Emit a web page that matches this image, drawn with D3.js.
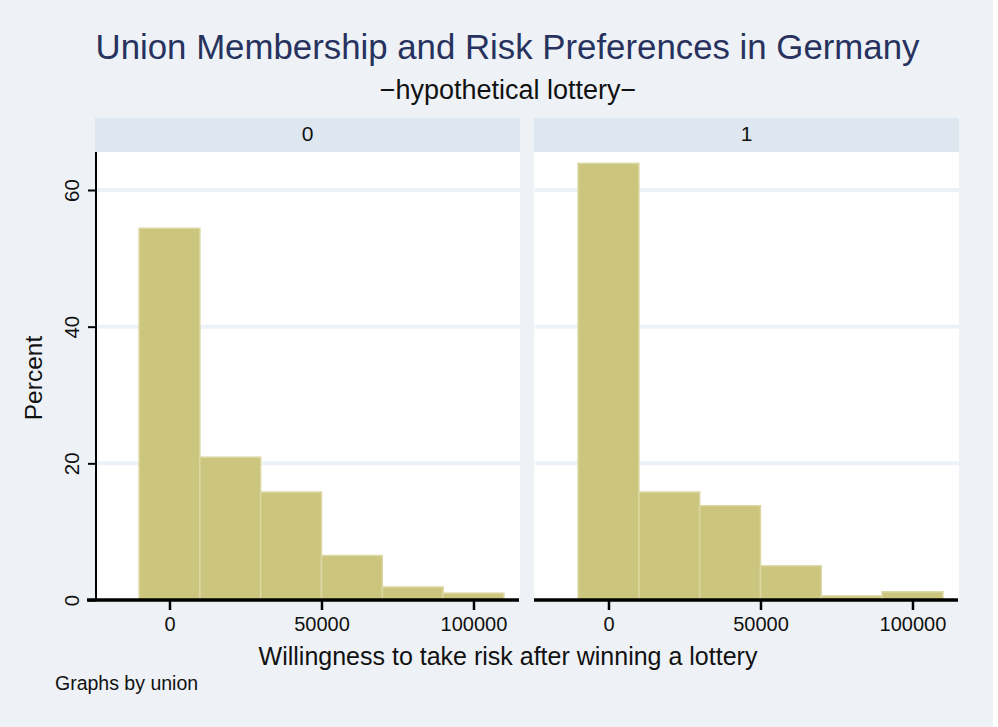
<!DOCTYPE html>
<html lang="en">

<head>
    <meta charset="UTF-8">
    <title>Union Membership and Risk Preferences in Germany</title>
    <style>
        html, body {
            margin: 0;
            padding: 0;
            background: #ffffff;
        }
        svg text {
            font-family: "Liberation Sans", Arial, Helvetica, sans-serif;
        }
    </style>
</head>

<body>
    <div id='chart'></div>

    <script src="https://cdnjs.cloudflare.com/ajax/libs/d3/7.8.5/d3.min.js"></script>

    <script>

        // Histogram data (percent per bin)
        var binEdges = [-10000, 10000, 30000, 50000, 70000, 90000, 110000];
        var panelLabels = ['0', '1'];
        var percentUnion0 = [54.4, 20.9, 15.8, 6.5, 1.9, 1.0];
        var percentUnion1 = [63.9, 15.8, 13.8, 5.0, 0.6, 1.2];
        var yTicks = [0, 20, 40, 60];
        var xTicks = [0, 50000, 100000];

        var width = 998, height = 727;

        var svg = d3.select('#chart').append('svg')
            .attr('width', width)
            .attr('height', height);

        // Figure background (leaves a thin white band on the right like the original)
        svg.append('rect')
            .attr('x', 0).attr('y', 0)
            .attr('width', 993).attr('height', height)
            .attr('fill', '#eef2f7');

        // Titles
        svg.append('text')
            .attr('x', 507.5).attr('y', 59)
            .attr('text-anchor', 'middle')
            .attr('font-size', 34.8)
            .attr('fill', '#27325e')
            .text('Union Membership and Risk Preferences in Germany');

        svg.append('text')
            .attr('x', 508).attr('y', 99)
            .attr('text-anchor', 'middle')
            .attr('font-size', 27)
            .attr('fill', '#111')
            .text('\u2212hypothetical lottery\u2212');

        // Panel geometry
        var panels = [
            { label: panelLabels[0], values: percentUnion0, x0: 95, x1: 520 },
            { label: panelLabels[1], values: percentUnion1, x0: 534, x1: 959 }
        ];
        var stripTop = 118, plotTop = 152, plotBottom = 600;

        var y = d3.scaleLinear().domain([0, 65.56]).range([plotBottom, plotTop]);

        panels.forEach(function (p, i) {
            var x = d3.scaleLinear().domain([-24500, 115300]).range([p.x0, p.x1]);
            var g = svg.append('g');

            // strip header
            g.append('rect')
                .attr('x', p.x0).attr('y', stripTop)
                .attr('width', p.x1 - p.x0).attr('height', plotTop - stripTop)
                .attr('fill', '#dee6ef');
            g.append('text')
                .attr('x', (p.x0 + p.x1) / 2).attr('y', 141)
                .attr('text-anchor', 'middle')
                .attr('font-size', 21)
                .attr('fill', '#111')
                .text(p.label);

            // plot region
            g.append('rect')
                .attr('x', p.x0).attr('y', plotTop)
                .attr('width', p.x1 - p.x0).attr('height', plotBottom - plotTop)
                .attr('fill', '#ffffff');

            // gridlines
            g.selectAll('.grid')
                .data(yTicks.filter(function (d) { return d > 0; }))
                .enter().append('line')
                .attr('x1', p.x0 + 1).attr('x2', p.x1)
                .attr('y1', function (d) { return y(d); })
                .attr('y2', function (d) { return y(d); })
                .attr('stroke', '#edf2f8')
                .attr('stroke-width', 4);

            // bars
            g.selectAll('.bar')
                .data(p.values)
                .enter().append('rect')
                .attr('x', function (d, j) { return x(binEdges[j]); })
                .attr('width', function (d, j) { return x(binEdges[j + 1]) - x(binEdges[j]); })
                .attr('y', function (d) { return y(d); })
                .attr('height', function (d) { return y(0) - y(d); })
                .attr('fill', '#ccc57e')
                .attr('stroke', '#dbd7a2')
                .attr('stroke-width', 1.5);

            // x axis
            var xAxis = d3.axisBottom(x)
                .tickValues(xTicks)
                .tickFormat(d3.format('d'))
                .tickSize(10)
                .tickSizeOuter(0);
            var ax = g.append('g')
                .attr('transform', 'translate(0,' + plotBottom + ')')
                .call(xAxis);
            ax.select('.domain').remove();
            ax.selectAll('.tick line').attr('stroke', '#000').attr('stroke-width', 2.5);
            ax.selectAll('.tick text')
                .attr('font-size', 20)
                .attr('fill', '#111')
                .attr('y', 12)
                .attr('dy', '0.95em');
            g.append('line')
                .attr('x1', i === 0 ? p.x0 - 8 : p.x0).attr('x2', p.x1 - 1)
                .attr('y1', plotBottom).attr('y2', plotBottom)
                .attr('stroke', '#000')
                .attr('stroke-width', 3.5);

            // y axis only on the first panel
            if (i === 0) {
                var yAxis = d3.axisLeft(y)
                    .tickValues(yTicks)
                    .tickSize(8)
                    .tickSizeOuter(0);
                var ay = g.append('g')
                    .attr('transform', 'translate(' + (p.x0 + 1) + ',0)')
                    .call(yAxis);
                ay.select('.domain').remove();
                ay.selectAll('.tick line').attr('stroke', '#000').attr('stroke-width', 2);
                ay.selectAll('.tick text')
                    .attr('font-size', 20.5)
                    .attr('fill', '#111')
                    .attr('text-anchor', 'middle')
                    .attr('x', 0).attr('dy', 0)
                    .attr('transform', 'translate(-17,0) rotate(-90)');
                g.append('line')
                    .attr('x1', p.x0 + 1).attr('x2', p.x0 + 1)
                    .attr('y1', plotTop).attr('y2', plotBottom)
                    .attr('stroke', '#000')
                    .attr('stroke-width', 2);
            }
        });

        // Axis titles and note
        svg.append('text')
            .attr('transform', 'translate(42,378) rotate(-90)')
            .attr('text-anchor', 'middle')
            .attr('font-size', 24.5)
            .attr('fill', '#111')
            .text('Percent');

        svg.append('text')
            .attr('x', 508).attr('y', 665)
            .attr('text-anchor', 'middle')
            .attr('font-size', 25)
            .attr('fill', '#111')
            .text('Willingness to take risk after winning a lottery');

        svg.append('text')
            .attr('x', 55).attr('y', 690)
            .attr('font-size', 19.5)
            .attr('fill', '#111')
            .text('Graphs by union');
    </script>
</body>

</html>
